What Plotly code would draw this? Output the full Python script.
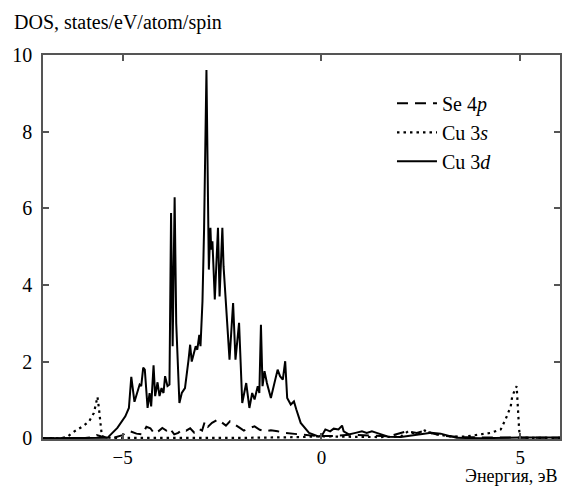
import plotly.graph_objects as go

# Cu 3d (solid)
cu3d_x = [-7.0, -6.0, -5.6, -5.38, -5.13, -4.93, -4.84, -4.78, -4.70, -4.63, -4.57, -4.53, -4.48, -4.44,
          -4.37, -4.32, -4.28, -4.22, -4.18, -4.12, -4.07, -4.02, -3.97, -3.93, -3.87, -3.82, -3.78,
          -3.74, -3.69, -3.65, -3.61, -3.57, -3.51, -3.43, -3.34, -3.30, -3.26, -3.21, -3.16, -3.12,
          -3.07, -3.04, -2.99, -2.95, -2.89, -2.83, -2.79, -2.77, -2.74, -2.68, -2.64, -2.60, -2.56,
          -2.49, -2.46, -2.43, -2.31, -2.22, -2.16, -2.07, -1.99, -1.89, -1.81, -1.74, -1.68, -1.60,
          -1.56, -1.52, -1.48, -1.43, -1.37, -1.27, -1.19, -1.10, -1.04, -0.97, -0.91, -0.86, -0.77,
          -0.69, -0.63, -0.52, -0.31, -0.06, 0.03, 0.10, 0.22, 0.31, 0.43, 0.52, 0.56, 0.69, 0.86,
          1.02, 1.14, 1.27, 1.39, 1.51, 1.68, 2.00, 2.27, 2.52, 2.76, 3.00, 3.22, 3.40, 4.00, 5.00, 6.0]
cu3d_y = [0.0, 0.0, 0.01, 0.01, 0.27, 0.57, 0.79, 1.60, 0.95, 1.18, 1.40, 1.36, 1.84, 1.79,
          0.79, 1.18, 0.83, 1.90, 1.10, 1.46, 1.10, 1.31, 1.18, 1.62, 1.36, 1.40, 5.88,
          2.40, 6.29, 3.00, 1.70, 0.92, 1.18, 1.31, 2.05, 2.44, 2.00, 2.23, 2.40, 2.31,
          2.70, 2.40, 3.57, 5.44, 9.61, 4.40, 5.49, 4.92, 5.14, 3.62, 4.57, 5.49, 3.70,
          5.49, 4.49, 3.96, 2.05, 3.53, 2.05, 3.01, 0.92, 1.44, 0.79, 1.18, 1.01, 1.36,
          1.18, 2.96, 1.36, 1.75, 1.44, 1.05, 1.44, 1.79, 1.62, 1.53, 2.01, 1.05, 0.88,
          0.96, 0.75, 0.40, 0.14, 0.04, 0.10, 0.23, 0.18, 0.25, 0.23, 0.33, 0.18, 0.10, 0.14,
          0.18, 0.14, 0.18, 0.14, 0.10, 0.04, 0.03, 0.07, 0.11, 0.14, 0.12, 0.07, 0.01, 0.0, 0.02, 0.02]

# Se 4p (dashed)
se4p_x = [-7.0, -6.0, -5.75, -5.65, -5.55, -5.4, -5.2, -5.0, -4.9, -4.8, -4.65, -4.5, -4.4, -4.3,
          -4.2, -4.1, -4.0, -3.9, -3.82, -3.7, -3.6, -3.5, -3.4, -3.3, -3.2, -3.1, -3.0, -2.93,
          -2.85, -2.75, -2.6, -2.5, -2.4, -2.3, -2.2, -2.05, -1.95, -1.85, -1.68, -1.55, -1.4,
          -1.27, -1.1, -0.9, -0.55, -0.15, 0.3, 0.7, 1.2, 1.7, 2.14, 2.4, 2.6, 2.8, 3.1, 3.5, 4.0, 5.0, 6.0]
se4p_y = [0.0, 0.0, 0.03, 0.08, 0.05, 0.02, 0.02, 0.08, 0.16, 0.18, 0.12, 0.10, 0.30, 0.26,
          0.12, 0.18, 0.27, 0.20, 0.27, 0.10, 0.14, 0.23, 0.20, 0.26, 0.15, 0.25, 0.20, 0.44,
          0.30, 0.40, 0.49, 0.42, 0.33, 0.44, 0.38, 0.27, 0.20, 0.25, 0.31, 0.22, 0.18,
          0.21, 0.18, 0.14, 0.10, 0.06, 0.06, 0.09, 0.07, 0.05, 0.18, 0.14, 0.20, 0.12, 0.06, 0.03, 0.02, 0.01, 0.01]

# Cu 3s (dotted)
cu3s_x = [-7.0, -6.6, -6.4, -6.21, -6.0, -5.84, -5.72, -5.63, -5.59, -5.55, -5.52, -5.3, -4.0, -2.0,
          -0.5, 0.0, 0.5, 1.5, 2.0, 2.18, 2.4, 2.6, 2.8, 3.2, 3.6, 4.09, 4.26, 4.51, 4.63, 4.76,
          4.80, 4.91, 4.94, 4.97, 4.99, 5.2, 6.0]
cu3s_y = [0.0, 0.0, 0.03, 0.18, 0.31, 0.44, 0.66, 1.08, 0.75, 0.31, 0.05, 0.01, 0.01, 0.01,
          0.03, 0.05, 0.04, 0.03, 0.05, 0.18, 0.10, 0.20, 0.12, 0.05, 0.04, 0.12, 0.14, 0.23, 0.49, 0.83,
          1.10, 1.36, 0.66, 0.27, 0.03, 0.01, 0.01]

xticks = [-5, 0, 5]
yticks = [0, 2, 4, 6, 8, 10]

FONT = "Liberation Serif, 'DejaVu Serif', 'Times New Roman', Times, serif"

fig = go.Figure()
fig.add_trace(go.Scatter(x=se4p_x, y=se4p_y, mode="lines", name="Se 4<i>p</i>",
                         line=dict(color="black", width=2, dash="11px,7px")))
fig.add_trace(go.Scatter(x=cu3s_x, y=cu3s_y, mode="lines", name="Cu 3<i>s</i>",
                         line=dict(color="black", width=2.2, dash="2.5px,4px")))
fig.add_trace(go.Scatter(x=cu3d_x, y=cu3d_y, mode="lines", name="Cu 3<i>d</i>",
                         line=dict(color="black", width=2)))

axis_common = dict(showline=True, linecolor="#555", linewidth=1.5, mirror="ticks",
                   ticks="inside", ticklen=6, tickcolor="#555", tickwidth=1.5,
                   showgrid=False, zeroline=False)

fig.update_layout(
    width=564, height=490,
    margin=dict(l=43, r=2, t=55, b=51),
    paper_bgcolor="white", plot_bgcolor="white",
    font=dict(family=FONT, size=20, color="black"),
    xaxis=dict(range=[-7, 6], tickvals=xticks, ticklabelstandoff=0,
               tickfont=dict(family=FONT, size=19, color="black"), **axis_common),
    yaxis=dict(range=[-0.02, 10], tickvals=yticks, ticklabelstandoff=5,
               tickfont=dict(family=FONT, size=20, color="black"), **axis_common),
    showlegend=True,
    legend=dict(x=0.675, y=0.925, xanchor="left", yanchor="top",
                bgcolor="rgba(0,0,0,0)", font=dict(family=FONT, size=20),
                tracegroupgap=0, itemwidth=40),
    annotations=[
        dict(text="DOS, states/eV/atom/spin", xref="paper", yref="paper",
             x=-31/519, y=1 + 33/384, xanchor="left", yanchor="middle",
             showarrow=False, font=dict(family=FONT, size=20)),
        dict(text="Энергия, эВ", xref="paper", yref="paper",
             x=1.0, y=-37/384, xanchor="right", yanchor="middle",
             showarrow=False, font=dict(family=FONT, size=18)),
    ],
)

fig.write_html("out.html")
